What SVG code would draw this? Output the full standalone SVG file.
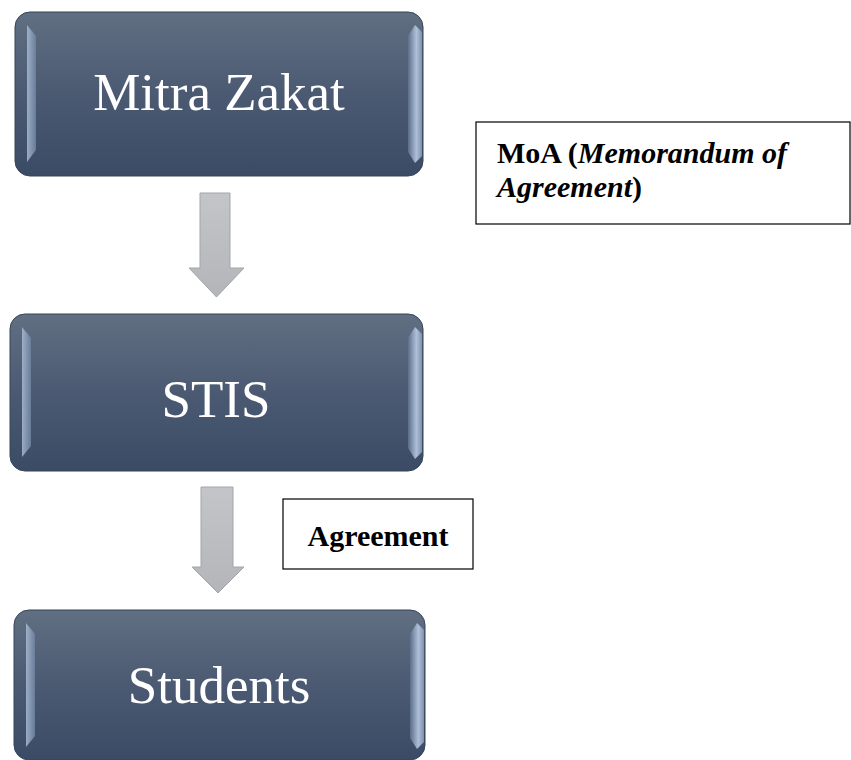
<svg xmlns="http://www.w3.org/2000/svg" width="851" height="760" viewBox="0 0 851 760">
  <defs>
    <linearGradient id="nodeFill" x1="0" y1="0" x2="0" y2="1">
      <stop offset="0" stop-color="#616f82"/>
      <stop offset="0.5" stop-color="#4b5a72"/>
      <stop offset="1" stop-color="#3b4b65"/>
    </linearGradient>
    <linearGradient id="leftHi" x1="0" y1="0" x2="1" y2="0">
      <stop offset="0" stop-color="#a9bcd6"/>
      <stop offset="1" stop-color="#6f829e"/>
    </linearGradient>
    <linearGradient id="rightHi" x1="0" y1="0" x2="1" y2="0">
      <stop offset="0" stop-color="#5d6f8c"/>
      <stop offset="0.6" stop-color="#b9cbe4"/>
      <stop offset="1" stop-color="#8497b3"/>
    </linearGradient>
    <linearGradient id="arrowFill" x1="0" y1="0" x2="0" y2="1">
      <stop offset="0" stop-color="#c3c5c9"/>
      <stop offset="1" stop-color="#b3b5b9"/>
    </linearGradient>
  </defs>
  <style>
    .node { fill: url(#nodeFill); stroke: #36445b; stroke-width: 1; }
    .lhi { fill: url(#leftHi); opacity: 0.85; }
    .rhi { fill: url(#rightHi); opacity: 0.9; }
    .ntext { font-family: 'Liberation Serif', 'DejaVu Serif', serif; font-size: 53px; fill: #ffffff; text-anchor: middle; }
    .arrow { fill: url(#arrowFill); stroke: #a3a5a9; stroke-width: 1; }
    .lbox { fill: #ffffff; stroke: #000000; stroke-width: 1.2; }
    .ltext { font-family: 'Liberation Serif', 'DejaVu Serif', serif; font-size: 30px; font-weight: bold; fill: #000000; }
  </style>

  <g id="connectors">
    <polygon class="arrow" points="200,193 230,193 230,268 244,268 216.5,297 189,268 200,268"/>
    <polygon class="arrow" points="201,487 233,487 233,567 244,567 218,593 192,567 201,567"/>
  </g>

  <g id="node-mitra-zakat">
    <rect class="node" x="15" y="12" width="408" height="164" rx="15"/>
    <polygon class="lhi" points="27,25 36,36 36,150 27,162"/>
    <polygon class="rhi" points="408,36 415,25 422,32 422,156 415,163 408,152"/>
    <text class="ntext" x="219" y="110" font-family="Liberation Serif, serif">Mitra Zakat</text>
  </g>

  <g id="node-stis">
    <rect class="node" x="10" y="314" width="413" height="157" rx="15"/>
    <polygon class="lhi" points="22,327 31,338 31,446 22,457"/>
    <polygon class="rhi" points="408,338 415,327 422,334 422,452 415,459 408,448"/>
    <text class="ntext" x="216" y="417" font-family="Liberation Serif, serif">STIS</text>
  </g>

  <g id="node-students">
    <rect class="node" x="14" y="610" width="411" height="150" rx="15"/>
    <polygon class="lhi" points="26,623 35,634 35,736 26,747"/>
    <polygon class="rhi" points="410,634 417,623 424,630 424,742 417,749 410,738"/>
    <text class="ntext" x="219" y="703" font-family="Liberation Serif, serif">Students</text>
  </g>

  <g id="label-moa">
    <rect class="lbox" x="476" y="122" width="374" height="102"/>
    <text class="ltext" x="497" y="163" font-family="Liberation Serif, serif">MoA (<tspan font-style="italic">Memorandum of</tspan></text>
    <text class="ltext" x="497" y="197" font-family="Liberation Serif, serif"><tspan font-style="italic">Agreement</tspan>)</text>
  </g>

  <g id="label-agreement">
    <rect class="lbox" x="283" y="499" width="190" height="70"/>
    <text class="ltext" x="378" y="546" text-anchor="middle" font-family="Liberation Serif, serif">Agreement</text>
  </g>
</svg>
